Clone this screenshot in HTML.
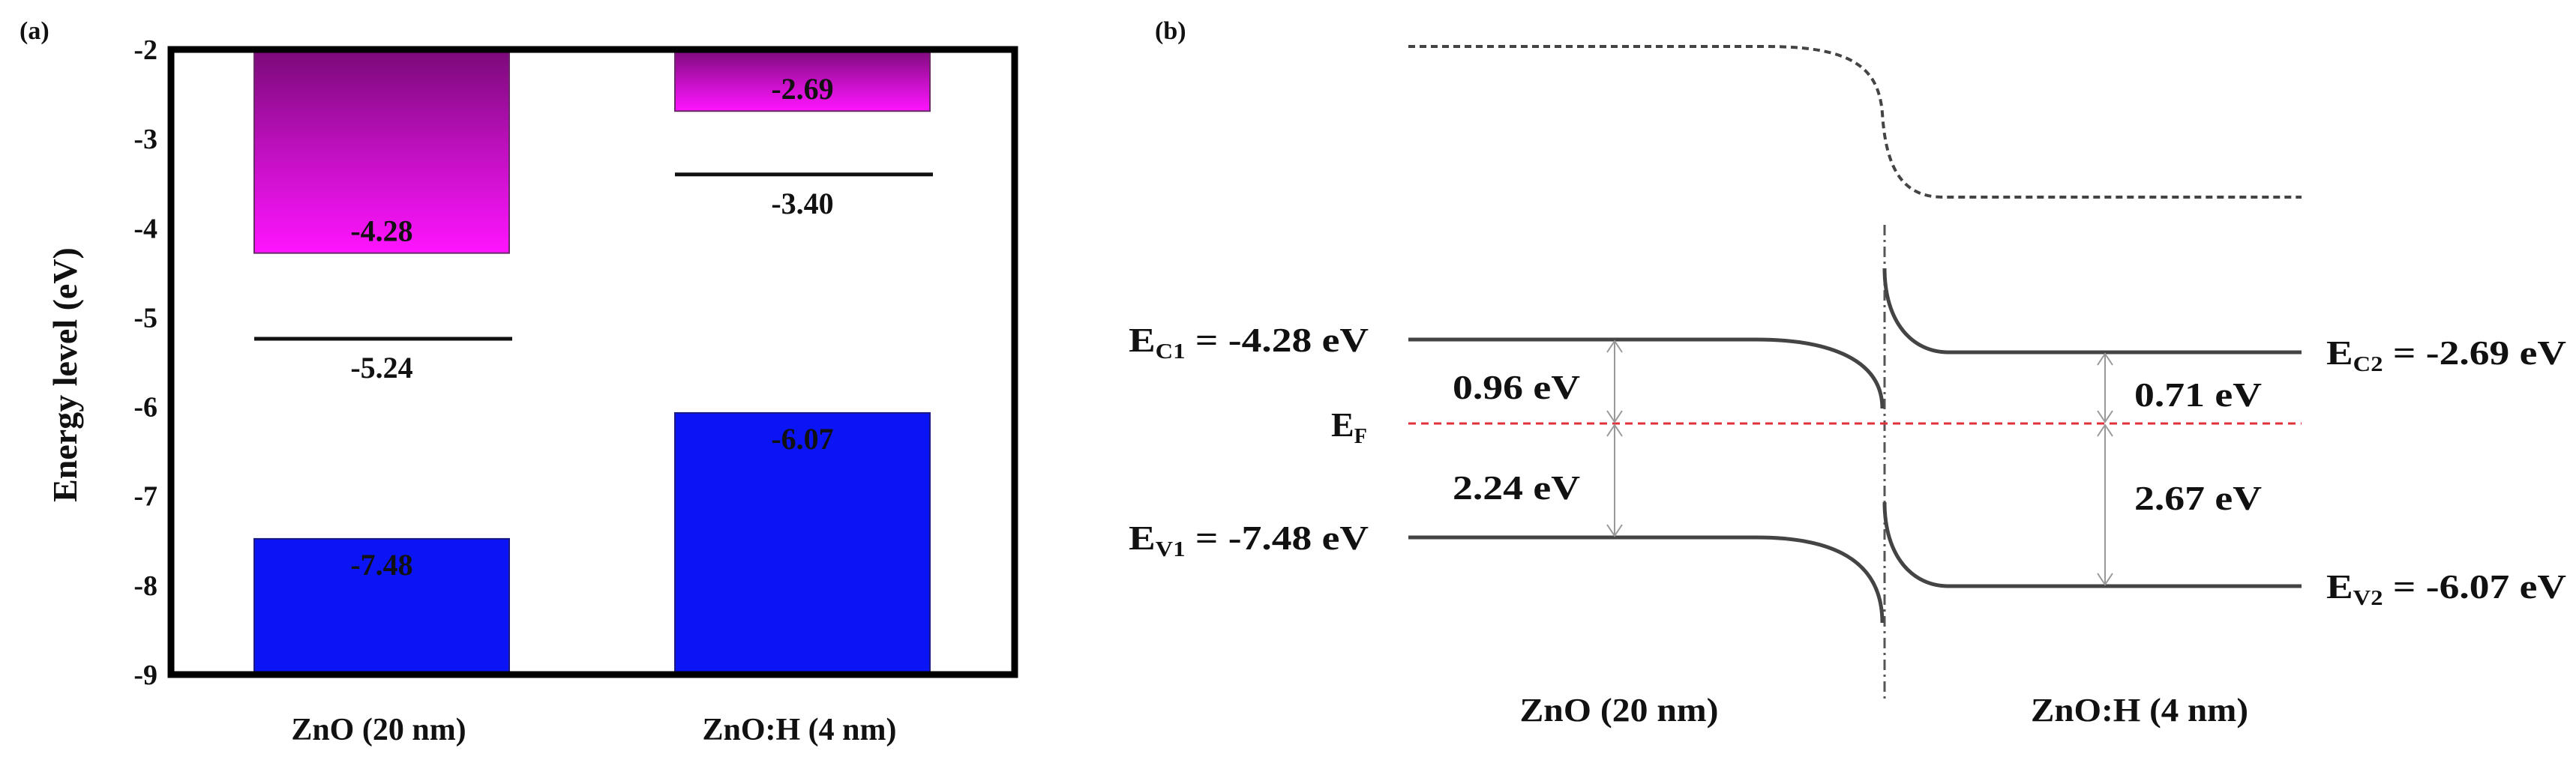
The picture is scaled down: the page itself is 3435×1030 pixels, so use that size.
<!DOCTYPE html>
<html><head><meta charset="utf-8"><style>
html,body{margin:0;padding:0;background:#fff}
svg{display:block}
text{font-family:"Liberation Serif",serif;font-weight:bold;fill:#111}
</style></head><body>
<svg id="fig" width="3435" height="1030" viewBox="0 0 3435 1030" xmlns="http://www.w3.org/2000/svg">
<defs>
<linearGradient id="mag" x1="0" y1="0" x2="0" y2="1">
<stop offset="0" stop-color="#7a0a78"/><stop offset="0.5" stop-color="#c010c0"/><stop offset="1" stop-color="#ff14ff"/>
</linearGradient>
</defs>
<g id="panelA">
<text x="26" y="52" font-size="34">(a)</text>
<text transform="translate(102,500) rotate(-90)" text-anchor="middle" font-size="46">Energy level (eV)</text>
</g>
<g id="panelB">
<text x="1540" y="52" font-size="34">(b)</text>
<path d="M1878 62 H2355 C2470 62 2505 90 2510 151 C2515 230 2540 263 2591 263 H3069" fill="none" stroke="#444" stroke-width="4" stroke-dasharray="9 6"/>
<line x1="2513" y1="300" x2="2513" y2="935" stroke="#555" stroke-width="3" stroke-dasharray="14 6 3 6"/>
<path d="M1878 453 H2342 C2440 453 2510 480 2510 545" fill="none" stroke="#444" stroke-width="5"/>
<path d="M1878 717 H2342 C2440 717 2510 745 2510 831" fill="none" stroke="#444" stroke-width="5"/>
<path d="M2513 358 C2513 430 2550 470 2598 470 H3069" fill="none" stroke="#444" stroke-width="5"/>
<path d="M2513 670 C2513 742 2550 782 2598 782 H3069" fill="none" stroke="#444" stroke-width="5"/>
<line x1="1878" y1="565" x2="3069" y2="565" stroke="#e0303a" stroke-width="3" stroke-dasharray="10 7"/>
<g stroke="#999" stroke-width="2" fill="none">
<path d="M2153 455 V563 M2143 470 L2153 455 L2163 470 M2143 548 L2153 563 L2163 548"/>
<path d="M2153 567 V715 M2143 582 L2153 567 L2163 582 M2143 700 L2153 715 L2163 700"/>
<path d="M2807 472 V563 M2797 487 L2807 472 L2817 487 M2797 548 L2807 563 L2817 548"/>
<path d="M2807 567 V780 M2797 582 L2807 567 L2817 582 M2797 765 L2807 780 L2817 765"/>
</g>
<text x="1505" y="469" font-size="46" textLength="320" lengthAdjust="spacingAndGlyphs">E<tspan font-size="28" dy="9">C1</tspan><tspan dy="-9"> = -4.28 eV</tspan></text>
<text x="1775" y="582" font-size="46">E<tspan font-size="28" dy="9">F</tspan></text>
<text x="1505" y="733" font-size="46" textLength="320" lengthAdjust="spacingAndGlyphs">E<tspan font-size="28" dy="9">V1</tspan><tspan dy="-9"> = -7.48 eV</tspan></text>
<text x="3102" y="486" font-size="46" textLength="320" lengthAdjust="spacingAndGlyphs">E<tspan font-size="28" dy="9">C2</tspan><tspan dy="-9"> = -2.69 eV</tspan></text>
<text x="3102" y="798" font-size="46" textLength="320" lengthAdjust="spacingAndGlyphs">E<tspan font-size="28" dy="9">V2</tspan><tspan dy="-9"> = -6.07 eV</tspan></text>
<text x="1937" y="532" font-size="46" textLength="170" lengthAdjust="spacingAndGlyphs">0.96 eV</text>
<text x="1937" y="666" font-size="46" textLength="170" lengthAdjust="spacingAndGlyphs">2.24 eV</text>
<text x="2846" y="542" font-size="46" textLength="170" lengthAdjust="spacingAndGlyphs">0.71 eV</text>
<text x="2846" y="680" font-size="46" textLength="170" lengthAdjust="spacingAndGlyphs">2.67 eV</text>
<text x="2159" y="962" font-size="44" text-anchor="middle" textLength="265" lengthAdjust="spacingAndGlyphs">ZnO (20 nm)</text>
<text x="2853" y="962" font-size="44" text-anchor="middle" textLength="290" lengthAdjust="spacingAndGlyphs">ZnO:H (4 nm)</text>
</g>
</svg>
<script>
const categories = ["ZnO (20 nm)", "ZnO:H (4 nm)"];
const cbmValues = [-4.28, -2.69];
const vbmValues = [-7.48, -6.07];
const levelValues = [-5.24, -3.40];
const yTicks = [-2, -3, -4, -5, -6, -7, -8, -9];

const NS = "http://www.w3.org/2000/svg";
const pA = document.getElementById("panelA");
const L = 228, R = 1353, T = 66, B = 900, yMin = -9, yMax = -2;
function y(v){ return T + (yMax - v) / (yMax - yMin) * (B - T); }
const barLeft = [339, 900], barW = 340;
function mk(tag, attrs){ const e = document.createElementNS(NS, tag); for (const k in attrs) e.setAttribute(k, attrs[k]); pA.appendChild(e); return e; }

categories.forEach((c, i) => {
  const x0 = barLeft[i];
  const cb = mk("rect", {x: x0, y: y(yMax), width: barW, height: y(cbmValues[i]) - y(yMax), fill: "url(#mag)", stroke: "#6a2a6a", "stroke-width": 2});
  
  
  const vb = mk("rect", {x: x0, y: y(vbmValues[i]), width: barW, height: y(yMin) - y(vbmValues[i]), fill: "#0a14f5", stroke: "#1a1a80", "stroke-width": 2});
  
  
  const ln = mk("line", {x1: x0, x2: x0 + barW + 4, y1: y(levelValues[i]), y2: y(levelValues[i]), stroke: "#111", "stroke-width": 5});
  
  
  const cx = x0 + barW / 2;
  const t1 = mk("text", {x: cx, y: y(cbmValues[i]) - 16, "text-anchor": "middle", "font-size": 40});
  t1.textContent = cbmValues[i].toFixed(2);
  
  
  const t2 = mk("text", {x: cx, y: y(vbmValues[i]) + 48, "text-anchor": "middle", "font-size": 40});
  t2.textContent = vbmValues[i].toFixed(2);
  
  
  const t3 = mk("text", {x: cx, y: y(levelValues[i]) + 52, "text-anchor": "middle", "font-size": 40});
  t3.textContent = levelValues[i].toFixed(2);
  
  
  const xl = mk("text", {x: cx - 4, y: 987, "text-anchor": "middle", "font-size": 42});
  xl.textContent = c;
  
  
});
yTicks.forEach(v => {
  const t = mk("text", {x: 210, y: y(v) + 13, "text-anchor": "end", "font-size": 38});
  t.textContent = String(v);
  
  
});
const fr = mk("rect", {x: L, y: T, width: R - L, height: B - T, fill: "none", stroke: "#000", "stroke-width": 9});


</script>
</body></html>
